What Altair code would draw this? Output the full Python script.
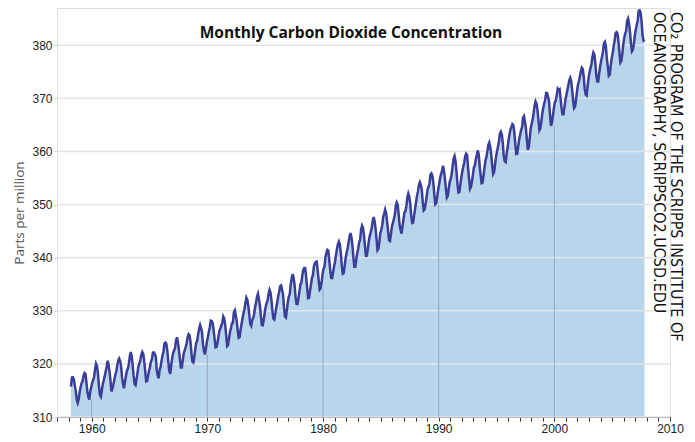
import altair as alt
import pandas as pd

# Monthly mean CO2 at Mauna Loa (ppm), March 1958 - October 2007
co2_1958_59 = [315.71, 317.45, 317.50, 317.10, 315.86, 314.93, 313.20, 312.66, 313.33, 314.67,
               315.62, 316.38, 316.71, 317.72, 318.29, 318.15, 316.54, 314.80, 313.84, 313.26, 314.80, 315.58]
co2_1960s = [316.43, 316.97, 317.58, 319.02, 320.03, 319.59, 318.18, 315.91, 314.16, 313.83, 315.00, 316.19,
             316.93, 317.70, 318.54, 319.48, 320.58, 319.77, 318.57, 316.79, 314.80, 315.38, 316.10, 317.01,
             317.94, 318.56, 319.68, 320.63, 321.01, 320.55, 319.58, 317.40, 316.26, 315.42, 316.69, 317.69,
             318.74, 319.08, 319.86, 321.39, 322.25, 321.47, 319.74, 317.77, 316.21, 315.99, 317.12, 318.31,
             319.57, 320.07, 320.73, 321.77, 322.25, 321.89, 320.44, 318.70, 316.70, 316.79, 317.79, 318.71,
             319.44, 320.44, 320.89, 322.13, 322.16, 321.87, 321.39, 318.81, 317.81, 317.30, 318.87, 319.42,
             320.62, 321.59, 322.39, 323.87, 324.01, 323.75, 322.39, 320.37, 318.64, 318.10, 319.79, 321.08,
             322.07, 322.50, 323.04, 324.42, 325.00, 324.09, 322.55, 320.92, 319.31, 319.31, 320.72, 321.96,
             322.57, 323.15, 323.89, 325.02, 325.57, 325.36, 324.14, 322.03, 320.41, 320.25, 321.31, 322.84,
             324.00, 324.42, 325.64, 326.66, 327.34, 326.76, 325.88, 323.67, 322.38, 321.78, 322.85, 324.11]
co2_1970s = [325.03, 325.99, 326.87, 328.13, 328.07, 327.66, 326.35, 324.69, 323.10, 323.16, 323.98, 325.13,
             326.17, 326.68, 327.18, 327.78, 328.92, 328.57, 327.34, 325.46, 323.36, 323.57, 324.80, 326.01,
             326.77, 327.63, 327.75, 329.72, 330.07, 329.09, 328.05, 326.32, 324.93, 325.06, 326.50, 327.55,
             328.54, 329.56, 330.30, 331.50, 332.48, 332.07, 330.87, 329.31, 327.51, 327.18, 328.16, 328.64,
             329.35, 330.71, 331.48, 332.65, 333.19, 332.20, 331.07, 329.15, 327.33, 327.28, 328.31, 329.58,
             330.73, 331.46, 331.90, 333.17, 333.94, 333.45, 331.97, 329.95, 328.50, 328.34, 329.37, 330.58,
             331.59, 332.75, 333.52, 334.64, 334.77, 334.00, 333.06, 330.68, 328.95, 328.75, 330.15, 331.62,
             332.66, 333.13, 334.95, 336.13, 336.93, 336.17, 334.88, 332.56, 331.29, 331.27, 332.41, 333.60,
             334.95, 335.25, 336.66, 337.69, 338.03, 338.01, 336.41, 334.41, 332.37, 332.41, 333.75, 334.90,
             336.14, 336.69, 338.27, 338.95, 339.21, 339.26, 337.54, 335.75, 333.98, 334.19, 335.31, 336.81]
co2_1980s = [337.90, 338.34, 340.01, 340.93, 341.48, 341.33, 339.40, 337.70, 336.19, 336.15, 337.27, 338.32,
             339.29, 340.55, 341.61, 342.53, 343.03, 342.54, 340.78, 338.44, 336.95, 337.08, 338.58, 339.88,
             340.96, 341.73, 342.81, 343.97, 344.63, 343.79, 342.32, 340.09, 338.28, 338.29, 339.60, 340.90,
             341.68, 342.90, 343.33, 345.25, 346.03, 345.63, 344.19, 342.27, 340.35, 340.38, 341.59, 343.05,
             344.10, 344.79, 345.52, 346.84, 347.63, 346.97, 345.53, 343.55, 341.40, 341.67, 343.10, 344.70,
             345.21, 346.16, 347.74, 348.34, 349.06, 348.38, 346.72, 345.02, 343.27, 343.13, 344.49, 345.88,
             346.56, 347.28, 348.01, 349.77, 350.38, 349.93, 348.16, 346.08, 345.22, 344.51, 345.93, 347.22,
             348.52, 348.73, 349.73, 351.31, 352.09, 351.53, 350.11, 347.92, 346.52, 346.59, 347.96, 349.16,
             350.39, 351.64, 352.40, 353.69, 354.21, 353.72, 352.69, 350.40, 348.92, 349.13, 350.20, 351.41,
             352.91, 353.27, 353.96, 355.64, 355.86, 355.37, 353.99, 351.81, 350.05, 350.25, 351.49, 352.85]
co2_1990s = [353.80, 355.04, 355.73, 356.32, 357.32, 356.34, 354.84, 353.01, 351.31, 351.62, 353.07, 354.33,
             354.84, 355.73, 357.23, 358.66, 359.13, 358.13, 356.19, 353.85, 352.25, 352.35, 353.81, 355.12,
             356.25, 357.11, 357.86, 359.09, 359.59, 359.33, 357.01, 354.94, 352.96, 353.32, 354.32, 355.57,
             357.00, 357.31, 358.47, 359.27, 360.19, 359.52, 357.33, 355.64, 354.03, 354.12, 355.41, 356.91,
             358.24, 358.92, 359.99, 361.23, 361.65, 360.81, 359.38, 357.46, 355.73, 356.08, 357.53, 358.98,
             359.92, 360.86, 361.83, 363.30, 363.69, 363.19, 361.64, 359.12, 358.17, 357.99, 359.45, 360.68,
             362.07, 363.24, 364.17, 364.57, 365.13, 364.92, 363.55, 361.38, 359.54, 359.58, 360.89, 362.24,
             363.09, 364.03, 364.51, 366.35, 366.64, 365.59, 364.31, 362.25, 360.29, 360.82, 362.49, 364.38,
             365.27, 365.98, 367.24, 368.66, 369.42, 368.99, 367.82, 365.95, 364.02, 364.40, 365.52, 367.13,
             368.18, 369.07, 369.68, 370.99, 370.96, 370.30, 369.45, 366.90, 364.81, 365.37, 366.72, 368.10]
co2_2000s = [369.29, 369.55, 370.60, 371.82, 371.58, 371.70, 369.86, 368.13, 367.00, 367.03, 368.37, 369.67,
             370.59, 371.51, 372.43, 373.37, 373.85, 373.22, 371.50, 369.61, 368.18, 368.45, 369.76, 371.24,
             372.53, 373.20, 374.12, 375.02, 375.76, 375.52, 374.01, 371.85, 370.75, 370.55, 372.25, 373.79,
             374.88, 375.64, 376.45, 377.73, 378.60, 378.28, 376.70, 374.38, 373.17, 373.14, 374.66, 375.99,
             377.00, 377.87, 378.88, 380.35, 380.62, 379.69, 377.47, 376.01, 374.25, 374.46, 376.16, 377.51,
             378.46, 379.73, 380.77, 382.29, 382.45, 382.21, 380.74, 378.74, 376.70, 377.00, 378.35, 380.11,
             381.38, 382.19, 382.67, 384.61, 385.03, 384.05, 382.46, 380.41, 378.85, 379.13, 380.15, 381.82,
             382.89, 383.90, 384.58, 386.50, 386.56, 386.10, 384.50, 381.99, 380.86, 380.70]

first_year, first_month = 1958, 3
y_ticks = [310, 320, 330, 340, 350, 360, 370, 380]
x_ticks = list(range(1957, 2011))
decades = [1960, 1970, 1980, 1990, 2000]

title_text = "Monthly Carbon Dioxide Concentration"
credit_line1 = "CO\u2082 PROGRAM OF THE SCRIPPS INSTITUTE OF"
credit_line2 = "OCEANOGRAPHY, SCRIPPSCO2.UCSD.EDU"
y_title = "Parts per million"

values = co2_1958_59 + co2_1960s + co2_1970s + co2_1980s + co2_1990s + co2_2000s
months = pd.date_range(f"{first_year}-{first_month:02d}-01", periods=len(values), freq="MS")
t = [m.year + (m.month - 0.5) / 12 for m in months]
df = pd.DataFrame({"t": t, "co2": values})

dec_rows = []
for d in decades:
    sub = df[(df["t"] >= d - 1) & (df["t"] < d)]
    dec_rows.append({"t": d, "top": sub["co2"].min()})
dec_df = pd.DataFrame(dec_rows)
grid_df = pd.DataFrame({"v": y_ticks})

W, H = 613, 409
xscale = alt.Scale(domain=[1957, 2010], nice=False, zero=False)
yscale = alt.Scale(domain=[310, 387], nice=False, zero=False)

label_font = "Liberation Sans"

xaxis = alt.Axis(title=None, values=x_ticks, tickCount=80,
                 labelExpr="datum.value % 10 == 0 ? datum.value : ''",
                 format="d", grid=False, domainColor="#333333", domainWidth=1.2,
                 tickColor="#333333", tickSize=4, tickWidth=1, labelPadding=2,
                 labelFont=label_font, labelFontSize=12, labelColor="#222222", labelFlush=False,
                 labelOverlap=False)
yaxis = alt.Axis(title=y_title, values=y_ticks, grid=False, domain=False, tickColor="#cccccc",
                 tickSize=3, labelPadding=2, labelFont=label_font, labelFontSize=12,
                 labelColor="#222222", titleFont="Open Sans", titleFontSize=13.5, titleFontWeight="normal",
                 titleColor="#555555", titlePadding=5)

area = alt.Chart(df).mark_area(color="#b9d5ec", opacity=1).encode(
    x=alt.X("t:Q", scale=xscale, axis=xaxis),
    y=alt.Y("co2:Q", scale=yscale, axis=yaxis),
    y2=alt.datum(310),
)
grid = alt.Chart(grid_df).mark_rule(color="#e2e6ea", strokeWidth=1.6).encode(
    y=alt.Y("v:Q", scale=yscale)
)
dec_rules = alt.Chart(dec_df).mark_rule(color="#98a6b4", strokeWidth=1).encode(
    x=alt.X("t:Q", scale=xscale),
    y=alt.Y("top:Q", scale=yscale),
    y2=alt.datum(310),
)
line = alt.Chart(df).mark_line(color="#3a3e98", strokeWidth=2.5).encode(
    x=alt.X("t:Q", scale=xscale),
    y=alt.Y("co2:Q", scale=yscale),
)
title = alt.Chart(pd.DataFrame({"s": [title_text]})).mark_text(
    font="Open Sans", fontSize=15.5, fontWeight="bold", color="#111111", align="center", baseline="alphabetic"
).encode(text="s:N", x=alt.value(294), y=alt.value(29.7))

credit_font = "Liberation Sans Narrow, DejaVu Sans Condensed, sans-serif"
credit1 = alt.Chart(pd.DataFrame({"s": [credit_line1]})).mark_text(
    font=credit_font, fontSize=16, angle=90, align="left", baseline="alphabetic", color="#111111"
).encode(text="s:N", x=alt.value(614), y=alt.value(4))
credit2 = alt.Chart(pd.DataFrame({"s": [credit_line2]})).mark_text(
    font=credit_font, fontSize=16, angle=90, align="left", baseline="alphabetic", color="#111111"
).encode(text="s:N", x=alt.value(597), y=alt.value(4))

chart = alt.layer(area, grid, dec_rules, line, title, credit1, credit2).properties(
    width=W, height=H,
    autosize=alt.AutoSizeParams(type="none"),
    padding={"left": 49, "top": 0, "right": 17, "bottom": 17},
).configure_view(stroke=None).configure(background="white")

chart.save("out.html", embed_options={"renderer": "svg", "actions": False})
